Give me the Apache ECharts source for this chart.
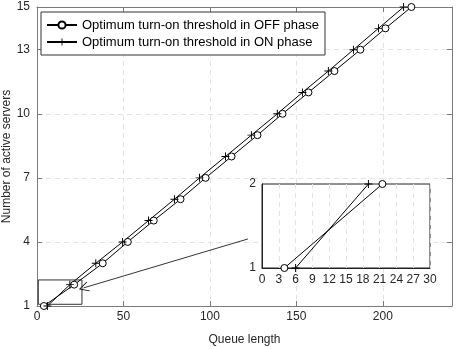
<!DOCTYPE html>
<html><head><meta charset="utf-8">
<script src="https://cdn.jsdelivr.net/npm/echarts@6/dist/echarts.min.js"></script>
<style>html,body{margin:0;padding:0;background:#fff}#c{width:457px;height:349px}</style>
</head><body><div id="c"></div>
<script>
const servers = [1,2,3,4,5,6,7,8,9,10,11,12,13,14,15];
const offThreshold = [4,21.5,38,52.5,67.5,83,97.5,112.5,127.5,142,157,172,187,201.5,216.5];
const onThreshold = [6,19,34,49.5,64.5,79.5,94,109,124,139,153.5,168.5,183,197.5,212];
const yTicks = [1,4,7,10,13,15];
const seriesNames = ['Optimum turn-on threshold in OFF phase','Optimum turn-on threshold in ON phase'];
const zoomBox = [[0.75,1.08],[26,2.22]];
const arrowFrom = [122,4.14];
const arrowTo = [27,1.85];

const FONT = '"Liberation Sans", Arial, Helvetica, sans-serif';
const TXT = '#262626';
const AX = '#7a7a7a';
const plusSym = 'path://M-1,-0.12H1V0.12H-1ZM-0.12,-1H0.12V1H-0.12Z';
const arrowSym = 'path://M0,0L1,2.2L0.86,2.3L0,0.4L-0.86,2.3L-1,2.2Z';

const offData = offThreshold.map((x,i)=>[x, servers[i]]);
const onData = onThreshold.map((x,i)=>[x, servers[i]]);

const chart = echarts.init(document.getElementById('c'), null, {renderer:'canvas'});

const gridLine = {show:true, lineStyle:{color:'#e3e3e3', type:[5,4], width:1}};

const option = {
  backgroundColor:'#fff',
  animation:false,
  textStyle:{fontFamily:FONT},
  legend:{
    data:seriesNames, left:41, top:12, orient:'vertical',
    padding:[6,6,6,5], itemGap:3, itemWidth:30, itemHeight:9,
    backgroundColor:'#fff', borderColor:'#333', borderWidth:1,
    textStyle:{fontFamily:FONT, fontSize:13, color:'#000', lineHeight:14},
    z:20
  },
  grid:[
    {left:37, right:5, top:7, bottom:43, containLabel:false, outerBoundsMode:'none'},
    {left:262, right:27, top:184, bottom:81, containLabel:false, outerBoundsMode:'none', show:true, backgroundColor:'#fff', borderColor:'#222', borderWidth:1, z:3}
  ],
  xAxis:[
    {type:'value', gridIndex:0, min:0, max:240, interval:50, position:'bottom',
     name:'Queue length', nameLocation:'middle', nameGap:28, nameMoveOverlap:false,
     nameTextStyle:{fontFamily:FONT, fontSize:12, color:TXT},
     axisLine:{show:true, onZero:false, lineStyle:{color:AX, width:1}},
     axisTick:{show:true, inside:true, length:5, lineStyle:{color:AX}},
     axisLabel:{fontFamily:FONT, fontSize:12, color:TXT, margin:5, showMaxLabel:false},
     splitLine:gridLine},
    {type:'value', gridIndex:0, min:0, max:240, interval:50, position:'top',
     axisLine:{show:true, onZero:false, lineStyle:{color:AX, width:1}},
     axisTick:{show:true, inside:true, length:5, lineStyle:{color:AX}},
     axisLabel:{show:false}, splitLine:{show:false}},
    {type:'value', gridIndex:1, min:0, max:30, interval:3, position:'bottom', z:4,
     axisLine:{show:true, onZero:false, lineStyle:{color:'#222', width:1}},
     axisTick:{show:false},
     axisLabel:{fontFamily:FONT, fontSize:12, color:TXT, margin:6},
     splitLine:gridLine}
  ],
  yAxis:[
    {type:'value', gridIndex:0, min:1, max:15, position:'left',
     name:'Number of active servers', nameLocation:'middle', nameGap:24, nameMoveOverlap:false,
     nameTextStyle:{fontFamily:FONT, fontSize:12, color:TXT},
     axisLine:{show:true, onZero:false, lineStyle:{color:AX, width:1}},
     axisTick:{show:true, inside:true, length:5, lineStyle:{color:AX}, customValues:yTicks},
     axisLabel:{fontFamily:FONT, fontSize:12, color:TXT, margin:7, customValues:yTicks},
     splitLine:gridLine},
    {type:'value', gridIndex:0, min:1, max:15, position:'right',
     axisLine:{show:true, onZero:false, lineStyle:{color:AX, width:1}},
     axisTick:{show:true, inside:true, length:5, lineStyle:{color:AX}, customValues:yTicks},
     axisLabel:{show:false}, splitLine:{show:false}},
    {type:'value', gridIndex:1, min:1, max:2, interval:1, position:'left', z:4,
     axisLine:{show:true, onZero:false, lineStyle:{color:'#222', width:1}},
     axisTick:{show:false},
     axisLabel:{fontFamily:FONT, fontSize:12, color:TXT, margin:6},
     splitLine:{show:false}}
  ],
  series:[
    {name:seriesNames[0], type:'line', xAxisIndex:0, yAxisIndex:0, data:offData,
     symbol:'circle', symbolSize:7, showAllSymbol:true,
     itemStyle:{color:'#fff', borderColor:'#000', borderWidth:1},
     lineStyle:{color:'#000', width:1}, z:5,
     markArea:{silent:true, itemStyle:{color:'rgba(0,0,0,0)', borderColor:'#333', borderWidth:1},
       data:[[{coord:zoomBox[0]},{coord:zoomBox[1]}]]},
     markLine:{silent:true, symbol:['none', arrowSym], symbolSize:10,
       label:{show:false}, lineStyle:{color:'#000', width:0.8, type:'solid'},
       itemStyle:{color:'#000'},
       data:[[{coord:arrowFrom},{coord:arrowTo}]]}
    },
    {name:seriesNames[1], type:'line', xAxisIndex:0, yAxisIndex:0, data:onData,
     symbol:plusSym, symbolSize:8, showAllSymbol:true,
     itemStyle:{color:'#000', borderColor:'#000', borderWidth:0},
     lineStyle:{color:'#000', width:1}, z:5},
    {name:seriesNames[0], type:'line', xAxisIndex:2, yAxisIndex:2, data:offData,
     symbol:'circle', symbolSize:7, showAllSymbol:true, clip:true,
     itemStyle:{color:'#fff', borderColor:'#000', borderWidth:1},
     lineStyle:{color:'#000', width:1}, z:6},
    {name:seriesNames[1], type:'line', xAxisIndex:2, yAxisIndex:2, data:onData,
     symbol:plusSym, symbolSize:8, showAllSymbol:true, clip:true,
     itemStyle:{color:'#000', borderColor:'#000', borderWidth:0},
     lineStyle:{color:'#000', width:1}, z:6}
  ]
};
chart.setOption(option);
</script></body></html>
